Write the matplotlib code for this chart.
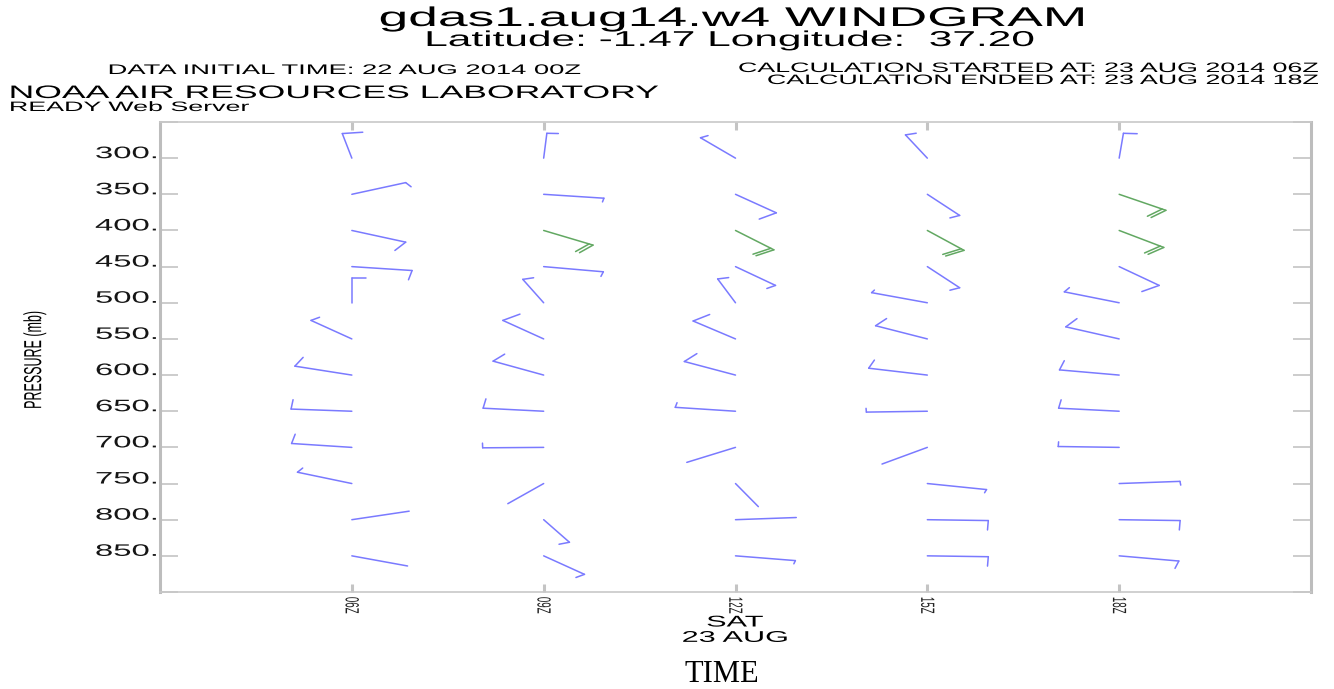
import numpy as np
import matplotlib
matplotlib.use('Agg')
import matplotlib.pyplot as plt
from matplotlib.patheffects import AbstractPathEffect
from matplotlib.transforms import Affine2D
from matplotlib.collections import LineCollection

# ---------------- data ----------------
times = [6, 9, 12, 15, 18]
time_labels = ['06Z', '09Z', '12Z', '15Z', '18Z']
levels = [300, 350, 400, 450, 500, 550, 600, 650, 700, 750, 800, 850]
level_labels = ['300.', '350.', '400.', '450.', '500.', '550.',
                '600.', '650.', '700.', '750.', '800.', '850.']

# wind direction (deg, staff direction) and speed (kt) per time, per level
dir_06 = [351, 62, 118, 99, 0, 318, 291, 275, 279, 297, 70, 114]
spd_06 = [9, 5, 10, 10, 6, 5, 10, 10, 10, 5, 1, 1]
dir_09 = [3, 99, 126, 102, 340, 318, 304, 277, 269, 216, 155, 138]
spd_09 = [5, 4, 20, 5, 5, 11, 9, 10, 5, 1, 5, 5]
dir_12 = [325, 138, 141, 139, 343, 316, 303, 279, 233, 158, 85, 101]
spd_12 = [4, 11, 20, 5, 5, 10, 10, 5, 1, 1, 1, 3.5]
dir_15 = [339, 148, 143, 148, 294, 302, 286, 268, 228, 104, 92, 92]
spd_15 = [5, 5, 20, 5, 3, 9, 9, 4, 1, 3.5, 10, 10]
dir_18 = [4, 130, 133, 139, 296, 299, 282, 277, 272, 85, 92, 102]
spd_18 = [6, 20, 20, 11, 5, 10, 10, 9, 5, 4, 10, 8]

directions = [dir_06, dir_09, dir_12, dir_15, dir_18]
speeds = [spd_06, spd_09, spd_12, spd_15, spd_18]

BLUE = '#7a7aff'
GREEN = '#62a862'
SX = 1.97

# ---------------- helpers ----------------
class HStretch(AbstractPathEffect):
    """Stretch rendered glyphs horizontally (text stays a Text artist)."""
    def __init__(self, sx=SX, anchor='center'):
        super().__init__()
        self.sx = sx
        self.anchor = anchor

    def draw_path(self, renderer, gc, tpath, affine, rgbFace=None):
        ext = tpath.get_extents(affine)
        if self.anchor == 'left':
            cx = ext.x0
        elif self.anchor == 'right':
            cx = ext.x1
        else:
            cx = 0.5 * (ext.x0 + ext.x1)
        t = affine + Affine2D().translate(-cx, 0).scale(self.sx, 1).translate(cx, 0)
        renderer.draw_path(gc, tpath, t, rgbFace)


W, H = 1334, 689
fig = plt.figure(figsize=(W / 100, H / 100), dpi=100)
ax = fig.add_axes([160 / W, 1 - 592 / H, (1311 - 160) / W, (592 - 122) / H])

ax.set_xlim(3, 21)
ax.set_ylim(900, 250)

SANS = 'Liberation Sans'

ax.set_yticks(list(range(250, 901, 50)))
ax.set_yticklabels([''] + level_labels + [''], fontsize=12, family=SANS,
                   color='#151515', va='baseline')
ax.set_xticks(times)
ax.set_xticklabels(time_labels, fontsize=7, family=SANS, rotation=270,
                   color='#222222')
ax.tick_params(axis='y', direction='in', length=13, width=1.2, color='#c4c4c4',
               left=True, right=True, pad=2)
ax.tick_params(axis='x', direction='in', length=6, width=2.2, color='#c4c4c4',
               top=True, bottom=True, pad=3.5)
for t in ax.get_yticklabels():
    t.set_path_effects([HStretch(anchor='right')])
for t in ax.get_xticklabels():
    t.set_path_effects([HStretch(anchor='center')])

for side in ['left', 'right']:
    ax.spines[side].set_color('#bdbdbd')
    ax.spines[side].set_linewidth(2.2)
for side in ['top', 'bottom']:
    ax.spines[side].set_color('#c8c8c8')
    ax.spines[side].set_linewidth(1.2)

# ---------------- wind barbs (drawn in axes-fraction frame) ----------------
STAFF = 0.053
FULL = 0.020
GAP = 0.0042
to_axes = ax.transData + ax.transAxes.inverted()

blue_segs, green_segs = [], []
for ti, t in enumerate(times):
    for li, p in enumerate(levels):
        d = directions[ti][li]
        s = speeds[ti][li]
        bx, by = to_axes.transform((t, p))
        th = np.deg2rad(d)
        ux, uy = np.sin(th), np.cos(th)
        px, py = np.cos(th), -np.sin(th)
        tx, ty = bx + STAFF * ux, by + STAFF * uy
        segs = [[(bx, by), (tx, ty)]]
        nfull = int(s // 10)
        rem = s - 10 * nfull
        pos = 0.0
        for i in range(nfull):
            x0, y0 = tx - pos * ux, ty - pos * uy
            segs.append([(x0, y0), (x0 + FULL * px, y0 + FULL * py)])
            pos += GAP
        if rem >= 2.5:
            L = FULL * rem / 10.0
            x0, y0 = tx - pos * ux, ty - pos * uy
            segs.append([(x0, y0), (x0 + L * px, y0 + L * py)])
        if s >= 20:
            green_segs += segs
        else:
            blue_segs += segs

ax.add_collection(LineCollection(blue_segs, colors=BLUE, linewidths=1.1,
                                 transform=ax.transAxes, clip_on=False,
                                 capstyle='round'))
ax.add_collection(LineCollection(green_segs, colors=GREEN, linewidths=1.1,
                                 transform=ax.transAxes, clip_on=False,
                                 capstyle='round'))

# ---------------- texts ----------------
def ftext(x, y, s, size, ha='center', anchor='center', **kw):
    return fig.text(x / W, 1 - y / H, s, fontsize=size, ha=ha, va='baseline',
                    family=kw.pop('family', SANS),
                    path_effects=[HStretch(anchor=anchor)], **kw)

ftext(733, 26, 'gdas1.aug14.w4 WINDGRAM', 19.5)
ftext(730, 46, 'Latitude: -1.47 Longitude:  37.20', 15.5)
ftext(345, 74, 'DATA INITIAL TIME: 22 AUG 2014 00Z', 10.0)
ftext(1318, 72, 'CALCULATION STARTED AT: 23 AUG 2014 06Z', 9.8,
      ha='right', anchor='right')
ftext(1318, 84, 'CALCULATION ENDED AT: 23 AUG 2014 18Z', 9.8,
      ha='right', anchor='right')
ftext(10, 98, 'NOAA AIR RESOURCES LABORATORY', 13.0, ha='left', anchor='left')
ftext(10, 111, 'READY Web Server', 9.8, ha='left', anchor='left')

fig.text(735 / W, 1 - 614.5 / H, 'SAT\n23 AUG', fontsize=11.2, family=SANS,
         ha='center', va='top', multialignment='center', linespacing=1.03,
         path_effects=[HStretch(anchor='center')])

fig.text(35 / W, 1 - 360 / H, 'PRESSURE (mb)', rotation=90, ha='center',
         va='center', fontsize=9, family=SANS,
         path_effects=[HStretch(anchor='center')])

fig.text(722 / W, 1 - 682 / H, 'TIME', fontsize=22, family='Liberation Serif',
         ha='center', va='baseline')

fig.savefig('out.png', dpi=100)
